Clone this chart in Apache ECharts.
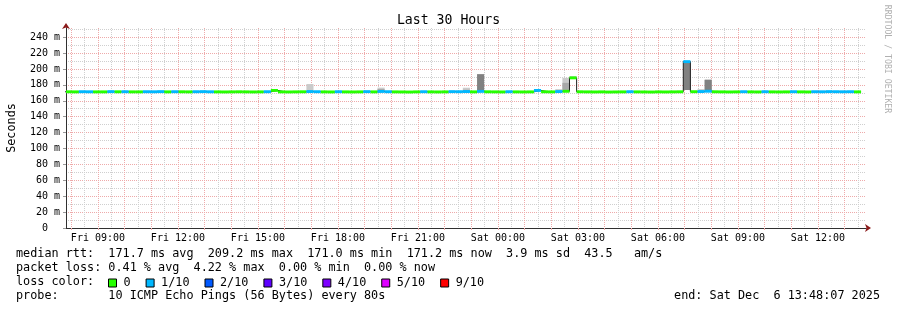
<!DOCTYPE html>
<html>
<head>
<meta charset="utf-8">
<script src="https://cdn.jsdelivr.net/npm/echarts@6/dist/echarts.min.js"></script>
<style>
  html, body { margin: 0; padding: 0; background: #fff; }
  #chart { width: 897px; height: 310px; }
</style>
</head>
<body>
<div id="chart"></div>
<script>
const FONT = '"DejaVu Sans Mono", monospace'

// x is hours since Fri 00:00
const viewStart = 7 + 48 / 60 + 7 / 3600   // Fri 07:48:07
const viewEnd = viewStart + 30             // Sat 13:48:07
const binStart = 7.75                      // first 16-min RRA bin
const binHours = 16 / 60

const xTickHours = [9, 12, 15, 18, 21, 24, 27, 30, 33, 36]
const xTickLabels = ['Fri 09:00', 'Fri 12:00', 'Fri 15:00', 'Fri 18:00', 'Fri 21:00',
  'Sat 00:00', 'Sat 03:00', 'Sat 06:00', 'Sat 09:00', 'Sat 12:00']
const yLabelValues = [0, 20, 40, 60, 80, 100, 120, 140, 160, 180, 200, 220, 240]
const yMax = 251.5

// median rtt per bin (ms)
const median = [
  171.3, 171.2, 171.4, 171.3, 171.2, 171.2, 171.5, 171.3, 171.4, 171.2,
  171.2, 171.4, 171.3, 171.5, 171.2, 171.4, 171.3, 171.2, 171.4, 171.5,
  171.3, 171.2, 171.1, 171.2, 171.3, 171.2, 171.1, 171.2, 171.4, 173.0,
  171.2, 171.1, 171.2, 171.3, 171.6, 171.4, 171.2, 171.1, 171.4, 171.2,
  171.1, 171.2, 171.5, 171.2, 171.7, 171.4, 171.2, 171.1, 171.0, 171.2,
  171.4, 171.2, 171.1, 171.2, 171.5, 171.4, 171.6, 171.2, 171.8, 171.3,
  171.2, 171.1, 171.4, 171.2, 171.1, 171.2, 173.0, 171.3, 171.2, 171.6,
  171.9, 188.8, 171.3, 171.2, 171.1, 171.2, 171.0, 171.1, 171.2, 171.4,
  171.2, 171.1, 171.0, 171.2, 171.1, 171.2, 171.3, 209.2, 171.4, 171.6,
  172.0, 171.3, 171.2, 171.1, 171.2, 171.4, 171.2, 171.1, 171.4, 171.2,
  171.1, 171.2, 171.4, 171.2, 171.1, 171.4, 171.3, 171.5, 171.4, 171.3,
  171.4, 171.2,
]

// lost pings out of 10, per bin
const lossLevel = [
  0, 0, 1, 1, 0, 0, 1, 0, 1, 0,
  0, 1, 1, 1, 0, 1, 0, 0, 1, 1,
  1, 0, 0, 0, 0, 0, 0, 0, 1, 0,
  0, 0, 0, 0, 1, 1, 0, 0, 1, 0,
  0, 0, 1, 0, 1, 1, 0, 0, 0, 0,
  1, 0, 0, 0, 1, 1, 1, 0, 1, 0,
  0, 0, 1, 0, 0, 0, 1, 0, 0, 1,
  0, 0, 0, 0, 0, 0, 0, 0, 0, 1,
  0, 0, 0, 0, 0, 0, 0, 1, 0, 1,
  1, 0, 0, 0, 0, 1, 0, 0, 1, 0,
  0, 0, 1, 0, 0, 1, 1, 1, 1, 1,
  1, 0,
]

// smoke (ping spread) ranges: bin index, from ms, to ms, shade 0 light .. 2 dark
const smokeBin   = [34, 44, 44, 56, 56, 58, 69, 70, 70, 71, 87, 89, 90, 90]
const smokeFrom  = [171.6, 171.7, 171.7, 171.6, 171.6, 171.8, 171.6, 171.9, 171.9, 187.5, 173.5, 171.6, 172.0, 172.0]
const smokeTo    = [181.0, 176.5, 174.8, 176.4, 173.8, 193.5, 174.6, 188.8, 182.5, 191.0, 209.2, 174.6, 187.0, 186.2]
const smokeShade = [0, 0, 1, 0, 1, 2, 0, 0, 1, 0, 2, 0, 0, 2]
const shadeColors = ['#cacaca', '#a8a8a8', '#818181']

const lossNames = ['0', '1/10', '2/10', '3/10', '4/10', '5/10', '9/10']
const lossLevels = [0, 1, 2, 3, 4, 5, 9]
const lossColors = ['#26ff00', '#00b8ff', '#0059ff', '#5e00ff', '#7e00ff', '#dd00ff', '#ff0000']

const bins = median.map((m, i) => [binStart + i * binHours, binStart + (i + 1) * binHours, m])

const hours = []
for (let h = 8; h < viewEnd; h += 1) hours.push(h)
const halfHours = []
for (let h = 8; h < viewEnd; h += 0.5) halfHours.push(h)
const yMinor = []
for (let v = 0; v <= 250; v += 10) yMinor.push(v)

const MGRID = '#eeaaaa'
const GRID = '#cfcfcf'
const ARROW = '#8b1a1a'
const AXIS = '#303030'

const smokeData = smokeBin.map((b, k) => [bins[b][0], bins[b][1], smokeFrom[k], smokeTo[k], smokeShade[k]])
const medianLine = bins.map(b => [b[0], b[2]])
medianLine.push([bins[bins.length - 1][1], median[median.length - 1]])

// loss coloured band over the median, one series per loss level
const bandSeries = lossLevels.map((lvl, k) => ({
  name: lossNames[k],
  type: 'custom',
  xAxisIndex: 2,
  yAxisIndex: 2,
  z: 4,
  clip: true,
  silent: true,
  itemStyle: { color: lossColors[k] },
  encode: { x: [0, 1], y: 2 },
  data: bins.filter((b, i) => lossLevel[i] === lvl),
  renderItem: (params, api) => {
    const a = api.coord([api.value(0), api.value(2)])
    const b = api.coord([api.value(1), api.value(2)])
    return {
      type: 'rect',
      shape: { x: a[0], y: a[1] - 1.45, width: b[0] - a[0], height: 2.9 },
      style: { fill: lossColors[k] },
    }
  },
}))

const hidden = { axisLine: { show: false }, axisTick: { show: false }, axisLabel: { show: false } }

const chart = echarts.init(document.getElementById('chart'), null, { renderer: 'canvas' })
chart.setOption({
  animation: false,
  backgroundColor: '#fff',
  textStyle: { fontFamily: FONT },
  title: {
    text: 'Last 30 Hours',
    left: 'center',
    top: 9,
    textStyle: { fontFamily: FONT, fontSize: 13.2, fontWeight: 'normal', color: '#000' },
  },
  grid: { left: 66, right: 31, top: 28, bottom: 82, outerBoundsMode: 'none' },
  xAxis: [{
    // minor grid, every 30 min
    type: 'value', min: viewStart, max: viewEnd, position: 'bottom', ...hidden,
    axisTick: { show: false, customValues: halfHours },
    splitLine: { show: true, lineStyle: { color: GRID, width: 1, type: 'dotted' } },
  }, {
    // arrow only, covered by the main axis line
    type: 'value', min: viewStart, max: viewEnd, position: 'bottom', ...hidden,
    axisLine: { show: true, symbol: ['none', 'arrow'], symbolSize: [6, 6], symbolOffset: [0, 5],
      lineStyle: { color: ARROW, width: 1 } },
    splitLine: { show: false },
  }, {
    type: 'value', min: viewStart, max: viewEnd, position: 'bottom',
    axisLine: { show: true, lineStyle: { color: AXIS, width: 1 } },
    axisTick: { show: true, customValues: hours, length: 2, lineStyle: { color: MGRID } },
    axisLabel: {
      customValues: xTickHours, margin: 5, color: '#000', fontFamily: FONT, fontSize: 10,
      formatter: v => xTickLabels[xTickHours.indexOf(v)] || '',
    },
    splitLine: { show: true, lineStyle: { color: MGRID, width: 1, type: 'dotted' } },
  }],
  yAxis: [{
    type: 'value', min: 0, max: yMax, position: 'left', ...hidden,
    axisTick: { show: false, customValues: yMinor },
    splitLine: { show: true, lineStyle: { color: GRID, width: 1, type: 'dotted' } },
  }, {
    type: 'value', min: 0, max: yMax, position: 'left', ...hidden,
    axisLine: { show: true, onZero: false, symbol: ['none', 'arrow'], symbolSize: [6, 6], symbolOffset: [0, 5],
      lineStyle: { color: ARROW, width: 1 } },
    splitLine: { show: false },
  }, {
    type: 'value', min: 0, max: yMax, position: 'left',
    name: 'Seconds', nameLocation: 'middle', nameRotate: 90, nameGap: 48,
    nameTextStyle: { fontFamily: FONT, fontSize: 11.8, color: '#000' },
    axisLine: { show: true, onZero: false, lineStyle: { color: AXIS, width: 1 } },
    axisTick: { show: true, customValues: yLabelValues, length: 3, lineStyle: { color: '#999' } },
    axisLabel: {
      customValues: yLabelValues, margin: 6, color: '#000', fontFamily: FONT, fontSize: 10,
      formatter: v => (v === 0 ? '0  ' : v + ' m'),
    },
    splitLine: { show: true, lineStyle: { color: MGRID, width: 1, type: 'dotted' } },
  }],
  legend: {
    data: lossNames,
    left: 108,
    top: 277,
    padding: 0,
    icon: 'rect',
    itemWidth: 8,
    itemHeight: 8,
    itemGap: 15,
    selectedMode: false,
    itemStyle: { borderColor: '#000', borderWidth: 1 },
    textStyle: { fontFamily: FONT, fontSize: 11.8, color: '#000', padding: [0, 0, 0, 2] },
  },
  graphic: [
    { type: 'text', x: 16, y: 254, style: { text: 'median rtt:  171.7 ms avg  209.2 ms max  171.0 ms min  171.2 ms now  3.9 ms sd  43.5   am/s', font: '11.8px ' + FONT, fill: '#000', verticalAlign: 'middle' } },
    { type: 'text', x: 16, y: 268, style: { text: 'packet loss: 0.41 % avg  4.22 % max  0.00 % min  0.00 % now', font: '11.8px ' + FONT, fill: '#000', verticalAlign: 'middle' } },
    { type: 'text', x: 16, y: 282, style: { text: 'loss color:', font: '11.8px ' + FONT, fill: '#000', verticalAlign: 'middle' } },
    { type: 'text', x: 16, y: 296, style: { text: 'probe:       10 ICMP Echo Pings (56 Bytes) every 80s', font: '11.8px ' + FONT, fill: '#000', verticalAlign: 'middle' } },
    { type: 'text', x: 880, y: 296, style: { text: 'end: Sat Dec  6 13:48:07 2025', font: '11.8px ' + FONT, fill: '#000', align: 'right', verticalAlign: 'middle' } },
    { type: 'text', x: 887, y: 59, rotation: -Math.PI / 2, style: { text: 'RRDTOOL / TOBI OETIKER', font: '8.2px ' + FONT, fill: '#b0b0b0', align: 'center', verticalAlign: 'middle' } },
  ],
  series: [{
    name: 'smoke',
    type: 'custom',
    xAxisIndex: 2,
    yAxisIndex: 2,
    z: 1,
    clip: true,
    silent: true,
    encode: { x: [0, 1], y: [2, 3] },
    data: smokeData,
    renderItem: (params, api) => {
      const p0 = api.coord([api.value(0), api.value(3)])
      const p1 = api.coord([api.value(1), api.value(2)])
      return {
        type: 'rect',
        shape: { x: p0[0], y: p0[1], width: p1[0] - p0[0], height: p1[1] - p0[1] },
        style: { fill: shadeColors[api.value(4)] },
      }
    },
  }, {
    name: 'median',
    type: 'line',
    xAxisIndex: 2,
    yAxisIndex: 2,
    z: 2,
    step: 'end',
    symbol: 'none',
    silent: true,
    lineStyle: { color: '#202020', width: 1 },
    data: medianLine,
  }, ...bandSeries],
})
</script>
</body>
</html>
